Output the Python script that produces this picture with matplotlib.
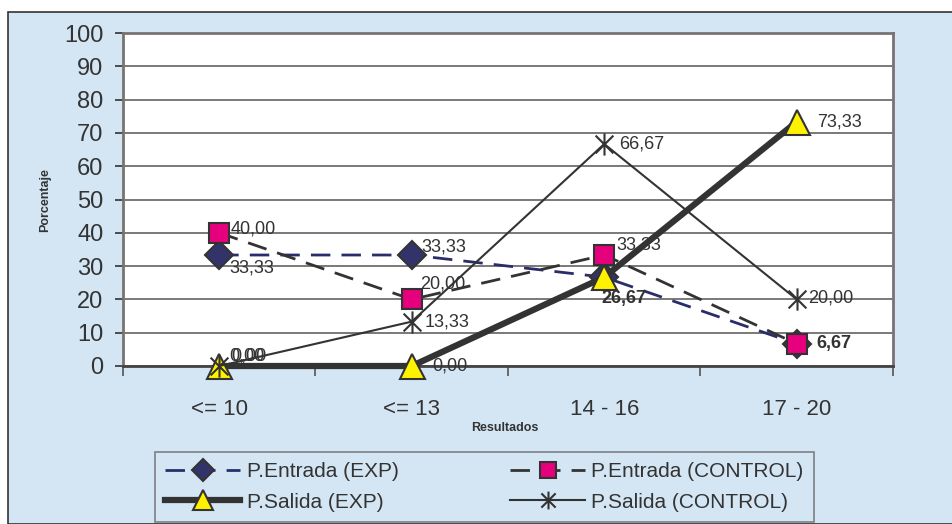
import matplotlib
matplotlib.use("Agg")
import matplotlib.pyplot as plt
from matplotlib.patches import Rectangle
from matplotlib.path import Path

# datos
categorias = ["<= 10", "<= 13", "14 - 16", "17 - 20"]
entrada_exp = [33.33, 33.33, 26.67, 6.67]
entrada_control = [40.00, 20.00, 33.33, 6.67]
salida_exp = [0.00, 0.00, 26.67, 73.33]
salida_control = [0.00, 13.33, 66.67, 20.00]
yticks = [0, 10, 20, 30, 40, 50, 60, 70, 80, 90, 100]

fondo = "#D4E6F4"
plt.rcParams["font.family"] = ["Liberation Sans", "DejaVu Sans"]

fig = plt.figure(figsize=(9.53, 5.24), dpi=100)
fig.patch.set_facecolor("white")
# recuadro azul de fondo
fig.patches.append(Rectangle((8 / 953, 0), 1, 1 - 12 / 524, transform=fig.transFigure,
                             facecolor=fondo, edgecolor="#333333", linewidth=1.2, zorder=-10))

ax = fig.add_axes([123 / 953, 1 - 366 / 524, (893 - 123) / 953, (366 - 33) / 524])
ax.set_facecolor("white")
x = list(range(len(categorias)))

# marcador asterisco
asterisco = Path([(0, -1), (0, 1), (-0.8, -0.8), (0.8, 0.8), (-0.8, 0.8), (0.8, -0.8)],
                 [Path.MOVETO, Path.LINETO] * 3)

l1, = ax.plot(x, entrada_exp, color="#2B2D6B", lw=2, dashes=(7, 4), marker="D", ms=14,
              mfc="#33336B", mec="#333333", mew=1.5, label="P.Entrada (EXP)", zorder=4,
              clip_on=False)
l2, = ax.plot(x, entrada_control, color="#333333", lw=2, dashes=(7, 4), marker="s", ms=15,
              mfc="#E6007E", mec="#333333", mew=1.5, label="P.Entrada (CONTROL)", zorder=4,
              clip_on=False)
l3, = ax.plot(x, salida_exp, color="#333333", lw=4.5, marker="^", ms=18,
              mfc="#FFF200", mec="#333333", mew=1.5, label="P.Salida (EXP)", zorder=5,
              clip_on=False)
l4, = ax.plot(x, salida_control, color="#333333", lw=1.5, marker=asterisco, ms=16,
              mfc="none", mec="#333333", mew=1.5, label="P.Salida (CONTROL)", zorder=6,
              clip_on=False)

def fmt(v):
    return f"{v:.2f}".replace(".", ",")

def etiqueta(i, v, dx, dy, bold=False):
    ax.annotate(fmt(v), (i, v), xytext=(dx, dy), textcoords="offset points",
                ha="left", va="center", fontsize=13, color="#333333",
                fontweight="bold" if bold else "normal", zorder=7)

# etiquetas de datos
etiqueta(0, entrada_exp[0], 7, -9)
etiqueta(1, entrada_exp[1], 7, 6)
etiqueta(0, entrada_control[0], 8, 3)
etiqueta(1, entrada_control[1], 6, 11)
etiqueta(2, entrada_control[2], 9, 7)
etiqueta(2, salida_exp[2], -2, -15, bold=True)
etiqueta(3, entrada_exp[3], 14, 0, bold=True)
etiqueta(1, salida_exp[1], 15, 0)
etiqueta(3, salida_exp[3], 15, 0)
etiqueta(0, salida_exp[0], 7, 7)
etiqueta(0, salida_control[0], 9, 7)
etiqueta(1, salida_control[1], 9, 0)
etiqueta(2, salida_control[2], 11, 0)
etiqueta(3, salida_control[3], 8, 1)

ax.set_xlim(-0.5, 3.5)
ax.set_ylim(0, 100)
ax.set_yticks(yticks)
ax.yaxis.grid(True, color="#555555", lw=1.1)
ax.set_axisbelow(True)
ax.tick_params(axis="y", labelsize=17, colors="#333333", length=6, width=1.2, pad=8)
ax.set_xticks(x)
ax.set_xticklabels(categorias)
ax.set_xticks([-0.5, 0.5, 1.5, 2.5, 3.5], minor=True)
ax.tick_params(axis="x", which="major", length=0, labelsize=16, colors="#333333", pad=24)
ax.tick_params(axis="x", which="minor", length=7, width=1.2, color="#555555")
for lado in ["left", "right", "top", "bottom"]:
    ax.spines[lado].set_color("#7A7272")
    ax.spines[lado].set_linewidth(2)
ax.spines["bottom"].set_color("#444444")

fig.text(505 / 953, 1 - 428 / 524, "Resultados", ha="center", va="center",
         fontsize=9, fontweight="bold", color="#333333")
fig.text(45 / 953, 1 - 200 / 524, "Porcentaje", ha="center", va="center", rotation=90,
         fontsize=9, fontweight="bold", color="#333333")

# orden para que las filas queden como en el original
leg = fig.legend([l1, l3, l2, l4], [l1.get_label(), l3.get_label(), l2.get_label(), l4.get_label()],
                 loc="lower left", ncol=2, mode="expand",
                 bbox_to_anchor=(155 / 953, 2 / 524, (814 - 155) / 953, (522 - 439) / 524),
                 bbox_transform=fig.transFigure, frameon=True, fancybox=False,
                 prop={"size": 15}, handlelength=3.6, handletextpad=0.3,
                 borderaxespad=0, borderpad=0.5, columnspacing=2.0, labelspacing=0.55,
                 markerscale=0.8)
leg.get_frame().set_facecolor(fondo)
leg.get_frame().set_edgecolor("#666666")
leg.get_frame().set_linewidth(1.2)
for t in leg.get_texts():
    t.set_color("#333333")

fig.savefig("out.png", dpi=100)
